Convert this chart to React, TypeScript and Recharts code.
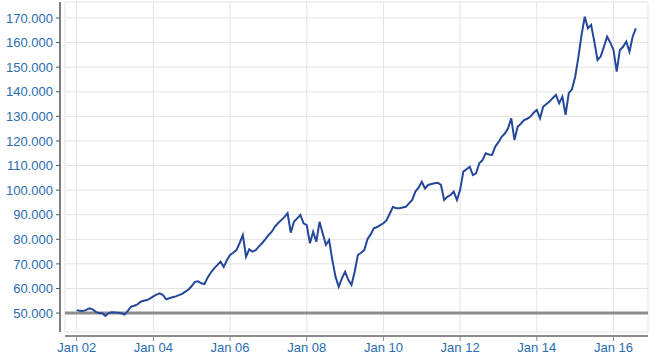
import { LineChart, Line, XAxis, YAxis, CartesianGrid, ReferenceLine } from 'recharts'

// months since Jan 2002, one reading per month
const indexValues = [
  51200, 50900, 50800, 51300, 51900, 51500, 50500, 50000, 49900, 48800, 50000, 50300,
  50200, 50100, 49900, 49400, 50900, 52600, 53000, 53500, 54600, 55000, 55300, 56000,
  56800, 57500, 58000, 57300, 55600, 56000, 56400, 56800, 57300, 57800, 58700, 59600,
  61000, 62700, 62900, 62100, 61800, 64500, 66500, 68200, 69500, 70900, 68800, 71500,
  73600, 74500, 75600, 78500, 81700, 72900, 75900, 75000, 75600, 77000, 78400, 80000,
  81700, 83000, 85100, 86500, 87800, 89000, 90600, 82700, 87100, 88500, 89900, 86500,
  85800, 78400, 83100, 79000, 87100, 82400, 77700, 79700, 71600, 64800, 60700, 64100,
  66800, 63500, 61400, 66800, 73600, 74500, 75600, 80000, 82000, 84500, 85000, 85800,
  86500, 87800, 90500, 93200, 92600, 92600, 92900, 93200, 94600, 96000, 99400, 101000,
  103400, 100700, 102100, 102500, 102800, 103000, 102100, 96000, 97300, 98000, 99400, 96000,
  100000, 107500, 108500, 109500, 106100, 106800, 110900, 112200, 115000, 114500, 114300, 117700,
  119500, 121700, 123000, 125100, 129200, 120400, 125800, 127000, 128500, 129000, 129900, 131500,
  132600, 129200, 133900, 135000, 136000, 137500, 138700, 135300, 138000, 130600, 139400, 141000,
  146000, 154000, 163000, 170500, 165800, 167200, 160400, 152900, 154300, 158300, 162400, 160000,
  157000, 148200, 157000, 158300, 160400, 156300, 162400, 165800,
]

const xTicks = [0, 24, 48, 72, 96, 120, 144, 168]
const xTickLabels = ['Jan 02', 'Jan 04', 'Jan 06', 'Jan 08', 'Jan 10', 'Jan 12', 'Jan 14', 'Jan 16']
const yTicks = [50000, 60000, 70000, 80000, 90000, 100000, 110000, 120000, 130000, 140000, 150000, 160000, 170000]

const data = indexValues.map((value, t) => ({ t, value }))

const xDomain = [-3.66, 178.8]
const yDomain = [42300, 176500]
const labelStyle = { fontSize: 13, fill: '#2a6cb0', fontFamily: 'Liberation Sans, Arial, sans-serif' }

const fmtY = (v: number) => `${v / 1000}.000`
const fmtX = (v: number) => xTickLabels[xTicks.indexOf(v)] ?? ''

export default function App() {
  return (
    <div style={{ position: 'absolute', left: 0, top: 0, background: '#fff' }}>
      <LineChart width={657} height={359} data={data} margin={{ top: 2, right: 9, bottom: 0, left: 0 }}>
        <CartesianGrid xAxisId="main" yAxisId="main" stroke="#e3e3e3" />
        {/* spacer axes keep the visible axis lines a few px off the plot, like the original */}
        <XAxis xAxisId="gap" type="number" dataKey="t" domain={xDomain} height={4} tick={false} axisLine={false} tickLine={false} />
        <XAxis
          xAxisId="main"
          type="number"
          dataKey="t"
          domain={xDomain}
          ticks={xTicks}
          interval={0}
          tickFormatter={fmtX}
          height={23}
          tickSize={5}
          tickMargin={2}
          axisLine={{ stroke: '#8c8c8c', strokeWidth: 2 }}
          tickLine={{ stroke: '#8c8c8c' }}
          tick={labelStyle}
        />
        <YAxis yAxisId="gap" type="number" domain={yDomain} width={5} tick={false} axisLine={false} tickLine={false} />
        <YAxis
          yAxisId="main"
          type="number"
          domain={yDomain}
          ticks={yTicks}
          interval={0}
          tickFormatter={fmtY}
          width={60}
          tickSize={4}
          tickMargin={3}
          axisLine={{ stroke: '#555', strokeWidth: 1.5 }}
          tickLine={{ stroke: '#555' }}
          tick={labelStyle}
        />
        <ReferenceLine xAxisId="main" yAxisId="main" y={50000} stroke="#8c8c8c" strokeWidth={3} />
        <Line
          xAxisId="main"
          yAxisId="main"
          type="linear"
          dataKey="value"
          stroke="#26489a"
          strokeWidth={2}
          dot={false}
          isAnimationActive={false}
        />
      </LineChart>
    </div>
  )
}
